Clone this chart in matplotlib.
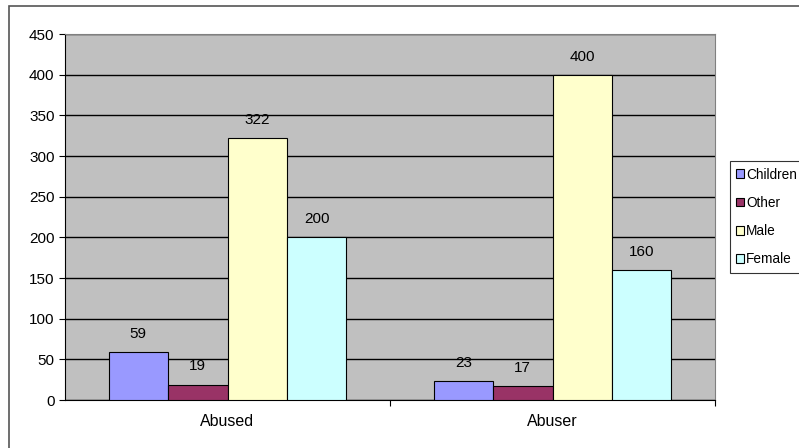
import matplotlib
matplotlib.use('Agg')
import matplotlib.pyplot as plt
import numpy as np
from matplotlib.patches import Rectangle

# data
categories = ['Abused', 'Abuser']
series = ['Children', 'Other', 'Male', 'Female']
values = {
    'Children': [59, 23],
    'Other': [19, 17],
    'Male': [322, 400],
    'Female': [200, 160],
}
colors = ['#9999FF', '#993366', '#FFFFCC', '#CCFFFF']

plt.rcParams['font.family'] = ['Liberation Sans', 'DejaVu Sans']

fig = plt.figure(figsize=(7.99, 4.48), dpi=100)
ax = fig.add_axes([65/799, 1-400/448, 650/799, 366/448])
ax.set_facecolor('#C0C0C0')

# outer chart border
fig.patches.append(Rectangle((9/799, -0.01), 1.0, 1-6/448+0.01, transform=fig.transFigure,
                             fill=False, edgecolor='#555555', linewidth=1.2))

x = np.arange(len(categories))
w = 0.183
for i, s in enumerate(series):
    pos = x + (i - 1.5) * w
    bars = ax.bar(pos, values[s], width=w, color=colors[i], edgecolor='black', linewidth=0.8,
                  label=s, zorder=3)
    for b, v in zip(bars, values[s]):
        ax.annotate(str(v), (b.get_x() + b.get_width()/2, v), xytext=(0, 8),
                    textcoords='offset points', ha='center', va='bottom', fontsize=11)

ax.set_xlim(-0.5, 1.5)
ax.set_ylim(0, 450)
ax.set_yticks(range(0, 451, 50))
ax.yaxis.grid(True, color='black', linewidth=1.0, zorder=0)
ax.set_axisbelow(True)
ax.set_xticks([0.5, 1.5], minor=False)
ax.set_xticklabels([])
ax.set_xticks(x, minor=True)
ax.set_xticklabels(categories, minor=True, fontsize=11.5)
ax.tick_params(axis='x', which='minor', length=0, pad=10)
ax.tick_params(axis='x', which='major', length=4, direction='out')
ax.tick_params(axis='y', length=4, direction='out', labelsize=11)
for side in ['top', 'right']:
    ax.spines[side].set_color('#808080')
ax.spines['left'].set_color('black')
ax.spines['bottom'].set_color('black')

leg = ax.legend(loc='center left', bbox_to_anchor=(730/799, 1-217/448), bbox_transform=fig.transFigure,
                frameon=True, fancybox=False, edgecolor='black', fontsize=9.8,
                handlelength=0.6, handleheight=0.6, handletextpad=0.15, labelspacing=1.05,
                borderpad=0.45, borderaxespad=0)
leg.get_frame().set_linewidth(0.8)
for h in leg.legend_handles:
    h.set_linewidth(0.8)

fig.savefig('out.png', dpi=100)
